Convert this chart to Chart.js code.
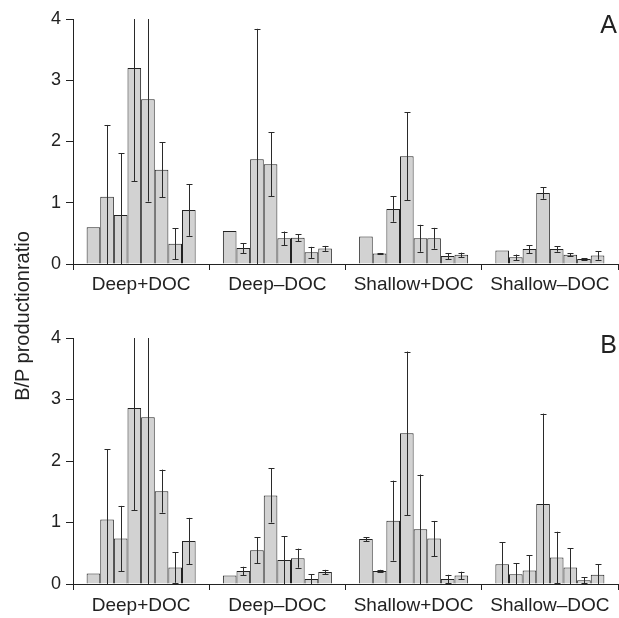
<!DOCTYPE html>
<html>
<head>
<meta charset="utf-8">
<script src="https://cdn.jsdelivr.net/npm/chart.js@4.4.1/dist/chart.umd.min.js"></script>
<style>
  body{margin:0;background:#fff;}
  #wrap{position:relative;width:619px;height:618px;font-family:"Liberation Sans",Arial,sans-serif;}
  .panel{position:absolute;left:0;width:619px;}
  #ytitle{position:absolute;left:-128px;top:304px;width:300px;text-align:center;font-size:20px;line-height:24px;color:#222;transform:rotate(-90deg);transform-origin:center center;white-space:nowrap;}
</style>
</head>
<body>
<div id="wrap">
  <div class="panel" style="top:0;height:300px"><canvas id="chartA" width="619" height="300"></canvas></div>
  <div class="panel" style="top:300px;height:318px"><canvas id="chartB" width="619" height="318"></canvas></div>
  <div id="ytitle">B/P productionratio</div>
</div>
<script>
// ===== Data =====
const groups = ["Deep+DOC","Deep\u2013DOC","Shallow+DOC","Shallow\u2013DOC"];
const yTicks = [0,1,2,3,4];

// panel A: 8 bars per group, with +/- error
const ratioA = [
  [0.60,1.10,0.80,3.20,2.69,1.54,0.33,0.88],
  [0.54,0.26,1.71,1.63,0.42,0.43,0.19,0.255],
  [0.45,0.17,0.90,1.76,0.42,0.42,0.13,0.15],
  [0.22,0.11,0.245,1.16,0.245,0.15,0.08,0.14]
];
const errA = [
  [0,1.17,1.01,1.85,1.67,0.45,0.25,0.42],
  [0,0.08,2.13,0.52,0.11,0.055,0.09,0.04],
  [0,0.01,0.21,0.72,0.22,0.17,0.05,0.035],
  [0,0.045,0.065,0.095,0.045,0.025,0.01,0.07]
];

// panel B
const ratioB = [
  [0.17,1.05,0.74,2.86,2.71,1.51,0.27,0.70],
  [0.14,0.21,0.55,1.44,0.39,0.42,0.08,0.195],
  [0.73,0.21,1.03,2.45,0.89,0.74,0.08,0.14],
  [0.32,0.16,0.22,1.30,0.43,0.27,0.06,0.15]
];
const errB = [
  [0,1.14,0.53,1.66,2.9,0.35,0.25,0.375],
  [0,0.07,0.21,0.44,0.39,0.155,0.08,0.035],
  [0.03,0.02,0.65,1.33,0.89,0.285,0.07,0.06],
  [0.36,0.18,0.25,1.47,0.42,0.31,0.05,0.17]
];

// ===== Helpers =====
const FONT = '"Liberation Sans", Arial, sans-serif';
const INK = "#222";
const SLOTS = 10; // each group: empty slot, 8 bars, empty slot

function toSlots(arr){
    const out=[];
    arr.forEach(g=>{ out.push(null); g.forEach(v=>out.push(v)); out.push(null); });
    return out;
}
const slotLabels = Array.from({length:groups.length*SLOTS},(_,i)=>String(i));

// ===== Plugins =====
const errorBars = {
    id:"errorBars",
    afterDatasetsDraw(chart){
        const ds=chart.data.datasets[0];
        const meta=chart.getDatasetMeta(0);
        const y=chart.scales.y, area=chart.chartArea, c=chart.ctx;
        c.save();
        c.strokeStyle="#2a2a2a"; c.lineWidth=1;
        meta.data.forEach((bar,i)=>{
            const v=ds.data[i], e=ds.errors[i];
            if(v==null || !e) return;
            const hi=v+e, lo=v-e;
            const yHi=Math.max(y.getPixelForValue(hi),area.top);
            const yLo=Math.min(y.getPixelForValue(Math.max(lo,0)),area.bottom);
            const x=Math.round(bar.x)+0.5;
            c.beginPath(); c.moveTo(x,yHi); c.lineTo(x,yLo); c.stroke();
            if(hi<=y.max){ c.beginPath(); c.moveTo(x-3,Math.round(yHi)+0.5); c.lineTo(x+3,Math.round(yHi)+0.5); c.stroke(); }
            if(lo>0.005){ c.beginPath(); c.moveTo(x-3,Math.round(yLo)+0.5); c.lineTo(x+3,Math.round(yLo)+0.5); c.stroke(); }
        });
        c.restore();
    }
};
const panelLetter = {
    id:"panelLetter",
    afterDraw(chart,args,opts){
        const c=chart.ctx;
        c.save();
        c.font="25px "+FONT; c.fillStyle=INK;
        c.textAlign="right"; c.textBaseline="alphabetic";
        c.fillText(opts.text,opts.x,opts.y);
        c.restore();
    }
};

// ===== Chart =====
function makePanel(id,values,errs,letter,padTop,axisH,letterY,labelPad){
    return new Chart(document.getElementById(id),{
        type:"bar",
        data:{
            labels:slotLabels,
            datasets:[{
                data:toSlots(values),
                errors:toSlots(errs),
                backgroundColor:"#d2d2d2",
                borderColor:"#222",
                borderWidth:1,
                borderSkipped:"start",
                inflateAmount:0,
                barPercentage:1,
                categoryPercentage:1
            }]
        },
        options:{
            responsive:false,
            animation:false,
            layout:{padding:{top:padTop,right:1,left:0,bottom:0}},
            plugins:{legend:{display:false},tooltip:{enabled:false},
                     panelLetter:{text:letter,x:617,y:letterY}},
            scales:{
                x:{display:false,stacked:false},
                xg:{
                    type:"category",
                    labels:groups,
                    position:"bottom",
                    offset:true,
                    grid:{offset:true,drawOnChartArea:false,tickLength:6,color:INK,lineWidth:1},
                    border:{color:INK,width:1},
                    ticks:{font:{family:FONT,size:19},color:INK,padding:labelPad,maxRotation:0,autoSkip:false},
                    afterFit(s){ s.height=axisH; }
                },
                y:{
                    min:0,max:4,
                    afterBuildTicks(s){ s.ticks=yTicks.map(v=>({value:v})); },
                    grid:{drawOnChartArea:false,tickLength:7,color:INK,lineWidth:1},
                    border:{color:INK,width:1},
                    ticks:{font:{family:FONT,size:18},color:INK,padding:5},
                    afterFit(s){ s.width=73; }
                }
            }
        },
        plugins:[errorBars,panelLetter]
    });
}

makePanel("chartA",ratioA,errA,"A",19,36,33,3);
makePanel("chartB",ratioB,errB,"B",38,34,53,4);
</script>
</body>
</html>
